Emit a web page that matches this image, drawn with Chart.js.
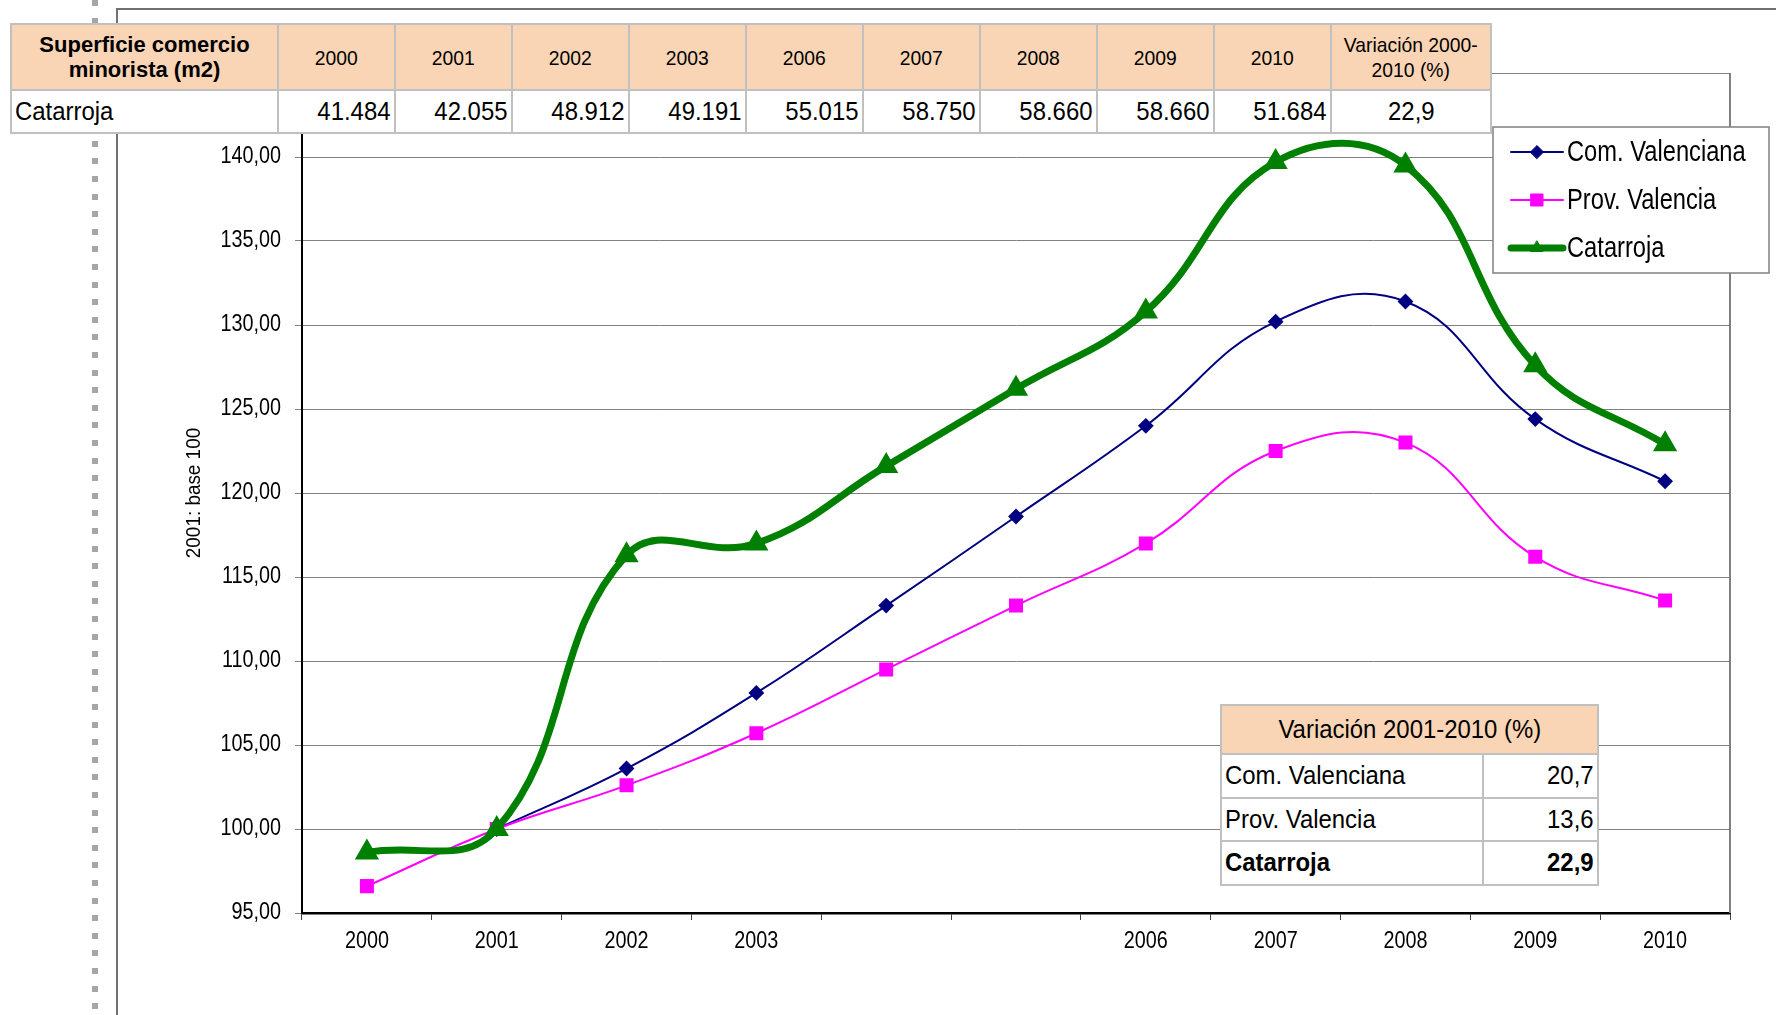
<!DOCTYPE html>
<html>
<head>
<meta charset="utf-8">
<script src="https://cdn.jsdelivr.net/npm/chart.js@4.4.0/dist/chart.umd.min.js"></script>
<style>
  body { margin: 0; background: #fff; }
  #page { position: relative; width: 1776px; height: 1015px; overflow: hidden;
          font-family: 'Liberation Sans', Arial, sans-serif; color: #000; }
  #chartBox { position: absolute; left: 0; top: 0; width: 1776px; height: 1015px; }
  .dots { position: absolute; left: 92px; top: 0; width: 6px; height: 1015px;
          background: repeating-linear-gradient(to bottom, #a6a6a6 0 6px, transparent 6px 17.6px); }
  .frame { position: absolute; left: 116px; top: 8px; width: 1700px; height: 1100px;
           border-left: 2px solid #707070; border-top: 2px solid #707070; }
  table { position: absolute; border-collapse: collapse; table-layout: fixed; background: #fff; }
  td { border: 2px solid #c0c0c0; padding: 0 3px; white-space: nowrap; overflow: hidden; }
  td span { display: inline-block; transform: scaleX(0.92); }
  .l span { transform-origin: left center; }
  .c span { transform-origin: center center; }
  .r span { transform-origin: right center; }
  #dataTable { left: 10px; top: 23px; }
  #dataTable thead td { background: #fad5b5; height: 64px; font-size: 21px; text-align: center; line-height: 25px; }
  #dataTable thead td.first { font-weight: bold; font-size: 22px; }
  #dataTable thead td.first span { transform: none; }
  #dataTable tbody td { height: 41px; font-size: 26px; text-align: right; }
  #dataTable tbody td.l { text-align: left; }
  #dataTable tbody td.c { text-align: center; }
  #varTable { left: 1220px; top: 704px; }
  #varTable td { font-size: 26px; height: 41.5px; }
  #varTable td.head { background: #fad5b5; text-align: center; height: 47px; }
  #varTable td.r { text-align: right; }
  #varTable tr.bold td { font-weight: bold; }
</style>
</head>
<body>
<div id="page">
  <div class="dots"></div>
  <div class="frame"></div>
  <div id="chartBox"><canvas id="chart" width="1776" height="1015"></canvas></div>
  <table id="dataTable"></table>
  <table id="varTable"></table>
</div>
<script>
// x categories and the labels shown under the axis (2004 and 2005 have no label)
const years = ['2000', '2001', '2002', '2003', '2004', '2005', '2006', '2007', '2008', '2009', '2010'];
const tickLabels = ['2000', '2001', '2002', '2003', '', '', '2006', '2007', '2008', '2009', '2010'];

// index 2001 = 100
const comValenciana = [null, 100, 103.6, 108.1, 113.3, 118.6, 124.0, 130.2, 131.4, 124.4, 120.7];
const provValencia = [96.6, 100, 102.6, 105.7, 109.5, 113.3, 117.0, 122.5, 123.0, 116.2, 113.6];
const catarroja = [98.6, 100, 116.3, 117.0, 121.6, 126.2, 130.8, 139.7, 139.5, 127.6, 122.9];

// top table
const tableYears = ['2000', '2001', '2002', '2003', '2006', '2007', '2008', '2009', '2010'];
const superficie = ['41.484', '42.055', '48.912', '49.191', '55.015', '58.750', '58.660', '58.660', '51.684'];
const variacion2000 = '22,9';

// small table inside the plot
const varNames = ['Com. Valenciana', 'Prov. Valencia', 'Catarroja'];
const varValues = ['20,7', '13,6', '22,9'];

const FONT = "'Liberation Sans', Arial, sans-serif";

// build the tables
const cell = (txt, cls) => '<td class="' + cls + '"><span>' + txt + '</span></td>';
let html = '<colgroup><col style="width:267px">';
tableYears.forEach(() => html += '<col style="width:117px">');
html += '<col style="width:160px"></colgroup><thead><tr>';
html += cell('Superficie comercio<br>minorista (m2)', 'first c');
tableYears.forEach(y => html += cell(y, 'c'));
html += cell('Variación 2000-<br>2010 (%)', 'c') + '</tr></thead><tbody><tr>' + cell('Catarroja', 'l');
superficie.forEach(v => html += cell(v, 'r'));
html += cell(variacion2000, 'c') + '</tr></tbody>';
document.getElementById('dataTable').innerHTML = html;

let vhtml = '<colgroup><col style="width:262px"><col style="width:115px"></colgroup>';
vhtml += '<tr><td class="head c" colspan="2"><span>Variación 2001-2010 (%)</span></td></tr>';
varNames.forEach((n, i) => {
    vhtml += '<tr' + (i === varNames.length - 1 ? ' class="bold"' : '') + '>' + cell(n, 'l') + cell(varValues[i], 'r') + '</tr>';
});
document.getElementById('varTable').innerHTML = vhtml;

const canvas = document.getElementById('chart');
const ctx = canvas.getContext('2d');

// the original text is a narrow face; squeeze canvas text horizontally by font size
const textScale = { 23: 0.86, 21: 0.9, 30: 0.79 };
const rawFillText = CanvasRenderingContext2D.prototype.fillText;
ctx.fillText = function (text, x, y) {
    const m = /(\d+(?:\.\d+)?)px/.exec(this.font);
    const sx = m ? (textScale[Math.round(+m[1])] || 1) : 1;
    this.save();
    this.translate(x, y);
    this.scale(sx, 1);
    rawFillText.call(this, text, 0, 0);
    this.restore();
};

// right border of the plot area + boxed legend
const framePlugin = {
    id: 'framePlugin',
    beforeDatasetsDraw(chart) {
        const { ctx, chartArea } = chart;
        ctx.save();
        ctx.strokeStyle = '#808080';
        ctx.lineWidth = 2;
        ctx.beginPath();
        ctx.moveTo(chartArea.right, chartArea.top);
        ctx.lineTo(chartArea.right, chartArea.bottom);
        ctx.stroke();
        ctx.restore();
    },
    afterDraw(chart) {
        const { ctx } = chart;
        const bx = 1493, by = 127, bw = 276, bh = 146;
        ctx.save();
        ctx.fillStyle = '#fff';
        ctx.fillRect(bx, by, bw, bh);
        ctx.strokeStyle = '#808080';
        ctx.lineWidth = 1.5;
        ctx.strokeRect(bx, by, bw, bh);
        chart.data.datasets.forEach((ds, i) => {
            const y = by + 25 + i * 48;
            ctx.strokeStyle = ds.borderColor;
            ctx.lineWidth = ds.borderWidth;
            ctx.lineCap = 'round';
            ctx.beginPath();
            ctx.moveTo(bx + 18, y);
            ctx.lineTo(bx + 70, y);
            ctx.stroke();
            ctx.fillStyle = ds.pointBackgroundColor;
            ctx.strokeStyle = ds.pointBorderColor;
            ctx.lineWidth = 1;
            Chart.helpers.drawPoint(ctx, { pointStyle: ds.pointStyle, radius: ds.pointRadius, borderWidth: 1 }, bx + 44, y);
            ctx.fillStyle = '#000';
            ctx.font = '30px ' + FONT;
            ctx.textBaseline = 'middle';
            ctx.textAlign = 'left';
            ctx.fillText(ds.label, bx + 74, y + 1);
        });
        ctx.restore();
    }
};

new Chart(ctx, {
    type: 'line',
    data: {
        labels: years,
        datasets: [
            {
                label: 'Com. Valenciana',
                data: comValenciana,
                borderColor: '#000080',
                backgroundColor: '#000080',
                borderWidth: 2,
                pointStyle: 'rectRot',
                pointRadius: 6.5,
                pointBackgroundColor: '#000080',
                pointBorderColor: '#000080',
                tension: 0.42,
                order: 2
            },
            {
                label: 'Prov. Valencia',
                data: provValencia,
                borderColor: '#ff00ff',
                backgroundColor: '#ff00ff',
                borderWidth: 2,
                pointStyle: 'rect',
                pointRadius: 8.5,
                pointBackgroundColor: '#ff00ff',
                pointBorderColor: '#ff00ff',
                tension: 0.42,
                order: 1
            },
            {
                label: 'Catarroja',
                data: catarroja,
                borderColor: '#008000',
                backgroundColor: '#008000',
                borderWidth: 7,
                pointStyle: 'triangle',
                pointRadius: 7,
                pointBackgroundColor: '#008000',
                pointBorderColor: '#008000',
                tension: 0.42,
                order: 0
            }
        ]
    },
    options: {
        responsive: false,
        animation: false,
        events: [],
        layout: { padding: { left: 170, top: 73, right: 46, bottom: 0 } },
        plugins: {
            legend: { display: false },
            tooltip: { enabled: false }
        },
        scales: {
            x: {
                offset: true,
                afterFit: scale => { scale.height = 102; },
                border: { color: '#000', width: 2.5 },
                grid: { drawOnChartArea: false, drawTicks: true, offset: true, tickLength: 7, color: '#404040' },
                ticks: {
                    autoSkip: false,
                    maxRotation: 0,
                    padding: 8,
                    color: '#000',
                    font: { family: FONT, size: 23 },
                    callback: (v, i) => tickLabels[i]
                }
            },
            y: {
                min: 95,
                max: 145,
                afterFit: scale => { scale.width = 132; },
                border: { color: '#000', width: 2 },
                grid: { color: '#808080', lineWidth: 1, tickLength: 7 },
                ticks: {
                    stepSize: 5,
                    padding: 14,
                    color: '#000',
                    font: { family: FONT, size: 23 },
                    callback: v => v.toFixed(2).replace('.', ',')
                },
                title: {
                    display: true,
                    text: '2001: base 100',
                    color: '#000',
                    padding: { top: 12, bottom: 0 },
                    font: { family: FONT, size: 21 }
                }
            }
        }
    },
    plugins: [framePlugin]
});
</script>
</body>
</html>
